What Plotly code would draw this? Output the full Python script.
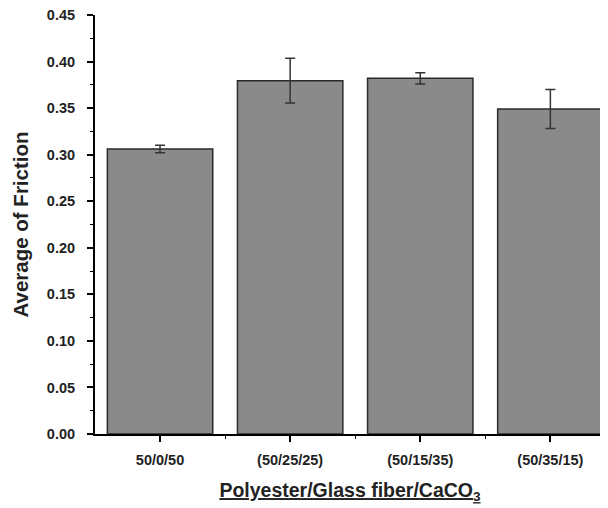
import plotly.graph_objects as go

categories = ["50/0/50", "(50/25/25)", "(50/15/35)", "(50/35/15)"]
friction = [0.306, 0.3795, 0.382, 0.349]
errors = [0.004, 0.024, 0.006, 0.021]
y_ticks = [0, 0.05, 0.10, 0.15, 0.20, 0.25, 0.30, 0.35, 0.40, 0.45]

font_family = "Liberation Sans, Arial, sans-serif"

fig = go.Figure()
fig.add_trace(go.Bar(
    x=list(range(len(categories))),
    y=friction,
    width=0.81,
    marker=dict(color="#8a8a8a", line=dict(color="#2a2a2a", width=1.5)),
    error_y=dict(type="data", array=errors, visible=True, color="#333333",
                 thickness=1.5, width=5),
))

# page body has an 8px margin, so the figure is 600x500 and offsets are compensated
fig.update_layout(
    width=600, height=500,
    margin=dict(l=87, r=3, t=7, b=74),
    paper_bgcolor="white", plot_bgcolor="white",
    showlegend=False,
    font=dict(family=font_family, color="black"),
    xaxis=dict(
        automargin=False,
        range=[-0.5, 3.42],
        tickmode="array",
        tickvals=list(range(len(categories))),
        ticktext=["<b>%s</b>" % c for c in categories],
        ticks="outside", ticklen=6, tickwidth=1.5, tickcolor="black",
        ticklabelstandoff=6,
        ticklabeloverflow="allow",
        minor=dict(tickmode="array", tickvals=[0.5, 1.5, 2.5], ticks="outside",
                   ticklen=3, tickwidth=1, tickcolor="black"),
        showline=True, linecolor="black", linewidth=2,
        showgrid=False, zeroline=False,
        tickfont=dict(size=14.5, family=font_family, color="#222"),
        title=dict(text="<b><u>Polyester/Glass fiber/CaCO<sub>3</sub></u></b>",
                   font=dict(size=19.5, family=font_family, color="#222"),
                   standoff=16),
    ),
    yaxis=dict(
        automargin=False,
        range=[0, 0.45],
        tickmode="array",
        tickvals=y_ticks,
        ticktext=["<b>%.2f</b>" % v for v in y_ticks],
        ticks="outside", ticklen=6, tickwidth=1.5, tickcolor="black",
        ticklabelstandoff=9,
        ticklabeloverflow="allow",
        minor=dict(dtick=0.025, ticks="outside", ticklen=3, tickwidth=1,
                   tickcolor="black", showgrid=False),
        showline=True, linecolor="black", linewidth=2,
        showgrid=False, zeroline=False,
        tickfont=dict(size=14.5, family=font_family, color="#222"),
        title=dict(text="<b>Average of Friction</b>",
                   font=dict(size=20.5, family=font_family, color="#222"),
                   standoff=13),
    ),
)

fig.write_html("out.html")
